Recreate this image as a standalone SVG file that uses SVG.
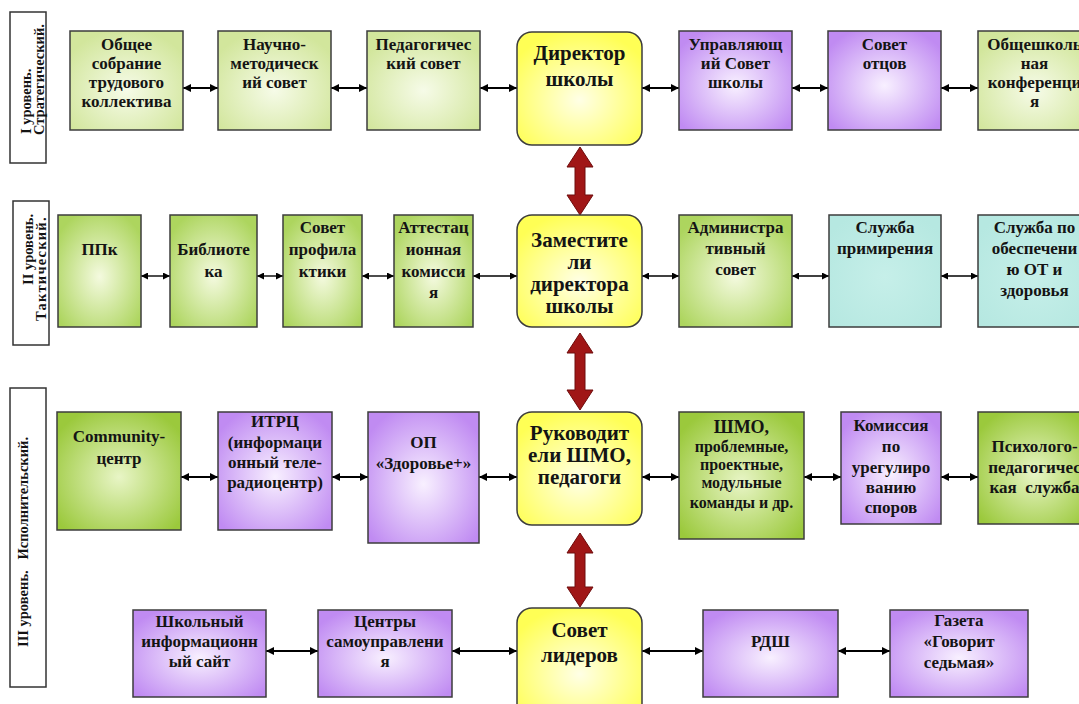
<svg xmlns="http://www.w3.org/2000/svg" width="1079" height="704" viewBox="0 0 1079 704">
<style>
text { font-family: "Liberation Serif", "Times New Roman", serif; font-weight: bold; fill: #141414; }
.node text { font-size: 17px; text-anchor: middle; }
.node.big text { font-size: 21px; }
.box { stroke: #3c3c3c; stroke-width: 1.5; }
.lvl rect { fill: #ffffff; stroke: #333333; stroke-width: 1.5; }
.lvl text { font-size: 14.5px; }
.conn line { stroke: #000; stroke-width: 2; marker-start: url(#ah); marker-end: url(#ah); }
.conn .thin { stroke-width: 1.4; marker-start: url(#ah2); marker-end: url(#ah2); }
.red { fill: #a01616; stroke: #6e0c0c; stroke-width: 1; }
</style>
<defs>
<radialGradient id="gY" cx="0.5" cy="0.6" r="0.62"><stop offset="0" stop-color="#ffffe6"/><stop offset="1" stop-color="#ffff55"/></radialGradient>
<radialGradient id="gG1" cx="0.5" cy="0.6" r="0.62"><stop offset="0" stop-color="#f6fbe8"/><stop offset="1" stop-color="#d2e69c"/></radialGradient>
<radialGradient id="gG2" cx="0.5" cy="0.55" r="0.62"><stop offset="0" stop-color="#f4fadf"/><stop offset="1" stop-color="#add55e"/></radialGradient>
<radialGradient id="gG3" cx="0.5" cy="0.55" r="0.62"><stop offset="0" stop-color="#e8f5c6"/><stop offset="1" stop-color="#9bc93c"/></radialGradient>
<radialGradient id="gP" cx="0.5" cy="0.55" r="0.62"><stop offset="0" stop-color="#f8f0ff"/><stop offset="1" stop-color="#c08bf2"/></radialGradient>
<radialGradient id="gC" cx="0.5" cy="0.55" r="0.62"><stop offset="0" stop-color="#c6efe9"/><stop offset="1" stop-color="#b6e8e1"/></radialGradient>
<marker id="ah" viewBox="0 0 10 10" refX="10" refY="5" markerUnits="userSpaceOnUse" markerWidth="9" markerHeight="8" orient="auto-start-reverse"><path d="M0,0 L10,5 L0,10 z" fill="#000"/></marker>
<marker id="ah2" viewBox="0 0 10 10" refX="10" refY="5" markerUnits="userSpaceOnUse" markerWidth="8" markerHeight="7" orient="auto-start-reverse"><path d="M0,0 L10,5 L0,10 z" fill="#000"/></marker>
</defs>

<g id="levels" class="lvl">
  <g id="lvl-1"><rect x="10" y="12" width="36" height="151"/>
    <text transform="translate(31,134) rotate(-90)">I уровень.</text>
    <text transform="translate(44,135) rotate(-90)">Стратегический.</text></g>
  <g id="lvl-2"><rect x="13" y="201" width="36" height="144"/>
    <text transform="translate(33,285) rotate(-90)">II уровень.</text>
    <text transform="translate(46,321) rotate(-90)" letter-spacing="1.2">Тактический.</text></g>
  <g id="lvl-3"><rect x="10" y="388" width="36" height="299"/>
    <text transform="translate(28,647) rotate(-90)" xml:space="preserve">III уровень.   Исполнительский.</text></g>
</g>

<g id="connectors" class="conn">
  <line x1="183" y1="88" x2="218" y2="88"/>
  <line x1="331" y1="88" x2="367" y2="88"/>
  <line x1="480" y1="88" x2="517" y2="88"/>
  <line x1="642" y1="88" x2="679" y2="88"/>
  <line x1="792" y1="88" x2="828" y2="88"/>
  <line x1="941" y1="88" x2="978" y2="88"/>
  <line class="thin" x1="141" y1="276" x2="170" y2="276"/>
  <line class="thin" x1="257" y1="276" x2="283" y2="276"/>
  <line class="thin" x1="362" y1="276" x2="394" y2="276"/>
  <line class="thin" x1="473" y1="276" x2="517" y2="276"/>
  <line class="thin" x1="642" y1="276" x2="679" y2="276"/>
  <line class="thin" x1="792" y1="276" x2="829" y2="276"/>
  <line class="thin" x1="941" y1="276" x2="978" y2="276"/>
  <line x1="181" y1="477" x2="218" y2="477"/>
  <line x1="332" y1="477" x2="368" y2="477"/>
  <line x1="479" y1="477" x2="517" y2="477"/>
  <line x1="642" y1="477" x2="679" y2="477"/>
  <line x1="804" y1="477" x2="841" y2="477"/>
  <line x1="941" y1="477" x2="978" y2="477"/>
  <line x1="266" y1="651" x2="318" y2="651"/>
  <line x1="452" y1="651" x2="517" y2="651"/>
  <line x1="642" y1="651" x2="703" y2="651"/>
  <line x1="838" y1="651" x2="890" y2="651"/>
  <path class="red" d="M580,147 L593,167 L585,167 L585,195 L593,195 L580,215 L567,195 L575,195 L575,167 L567,167 Z"/>
  <path class="red" d="M580,333 L593,353 L585,353 L585,390 L593,390 L580,410 L567,390 L575,390 L575,353 L567,353 Z"/>
  <path class="red" d="M580,533 L593,553 L585,553 L585,587 L593,587 L580,607 L567,587 L575,587 L575,553 L567,553 Z"/>
</g>

<g id="n-obshee" class="node"><rect class="box" x="70" y="31" width="113" height="99" fill="url(#gG1)"/>
  <text><tspan x="126.5" y="50">Общее</tspan><tspan x="126.5" y="69">собрание</tspan><tspan x="126.5" y="88">трудового</tspan><tspan x="126.5" y="107">коллектива</tspan></text></g>
<g id="n-nauchno" class="node"><rect class="box" x="218" y="31" width="113" height="99" fill="url(#gG1)"/>
  <text><tspan x="274.5" y="50">Научно-</tspan><tspan x="274.5" y="69">методическ</tspan><tspan x="274.5" y="88">ий совет</tspan></text></g>
<g id="n-pedsovet" class="node"><rect class="box" x="367" y="31" width="113" height="99" fill="url(#gG1)"/>
  <text><tspan x="423.5" y="50">Педагогичес</tspan><tspan x="423.5" y="69">кий совет</tspan></text></g>
<g id="n-director" class="node big"><rect class="box" x="517" y="32" width="125" height="113" rx="15" fill="url(#gY)"/>
  <text><tspan x="579.5" y="60">Директор</tspan><tspan x="579.5" y="86">школы</tspan></text></g>
<g id="n-upravl" class="node"><rect class="box" x="679" y="31" width="113" height="99" fill="url(#gP)"/>
  <text><tspan x="735.5" y="50">Управляющ</tspan><tspan x="735.5" y="69">ий Совет</tspan><tspan x="735.5" y="88">школы</tspan></text></g>
<g id="n-otcy" class="node"><rect class="box" x="828" y="31" width="113" height="99" fill="url(#gP)"/>
  <text><tspan x="884.5" y="50">Совет</tspan><tspan x="884.5" y="69">отцов</tspan></text></g>
<g id="n-konf" class="node"><rect class="box" x="978" y="31" width="113" height="99" fill="url(#gG1)"/>
  <text><tspan x="1034.5" y="50">Общешколь</tspan><tspan x="1034.5" y="69">ная</tspan><tspan x="1034.5" y="88">конференци</tspan><tspan x="1034.5" y="107">я</tspan></text></g>

<g id="n-ppk" class="node"><rect class="box" x="58" y="215" width="83" height="112" fill="url(#gG2)"/>
  <text><tspan x="99.5" y="255">ППк</tspan></text></g>
<g id="n-bibl" class="node"><rect class="box" x="170" y="215" width="87" height="112" fill="url(#gG2)"/>
  <text><tspan x="213.5" y="255">Библиоте</tspan><tspan x="213.5" y="277">ка</tspan></text></g>
<g id="n-profil" class="node"><rect class="box" x="283" y="215" width="79" height="112" fill="url(#gG2)"/>
  <text><tspan x="322.5" y="233">Совет</tspan><tspan x="322.5" y="255">профила</tspan><tspan x="322.5" y="277">ктики</tspan></text></g>
<g id="n-attest" class="node"><rect class="box" x="394" y="215" width="79" height="112" fill="url(#gG2)"/>
  <text><tspan x="433.5" y="233">Аттестац</tspan><tspan x="433.5" y="255">ионная</tspan><tspan x="433.5" y="277">комисси</tspan><tspan x="433.5" y="298">я</tspan></text></g>
<g id="n-zam" class="node big"><rect class="box" x="517" y="215" width="125" height="112" rx="15" fill="url(#gY)"/>
  <text><tspan x="579.5" y="247">Заместите</tspan><tspan x="579.5" y="269">ли</tspan><tspan x="579.5" y="291">директора</tspan><tspan x="579.5" y="313">школы</tspan></text></g>
<g id="n-admin" class="node"><rect class="box" x="679" y="215" width="113" height="112" fill="url(#gG2)"/>
  <text><tspan x="735.5" y="233">Администра</tspan><tspan x="735.5" y="254">тивный</tspan><tspan x="735.5" y="275">совет</tspan></text></g>
<g id="n-primir" class="node"><rect class="box" x="829" y="215" width="112" height="112" fill="url(#gC)"/>
  <text><tspan x="885" y="233">Служба</tspan><tspan x="885" y="254">примирения</tspan></text></g>
<g id="n-ot" class="node"><rect class="box" x="978" y="215" width="113" height="112" fill="url(#gC)"/>
  <text><tspan x="1034.5" y="233">Служба по</tspan><tspan x="1034.5" y="254">обеспечени</tspan><tspan x="1034.5" y="275">ю ОТ и</tspan><tspan x="1034.5" y="296">здоровья</tspan></text></g>

<g id="n-community" class="node"><rect class="box" x="57" y="412" width="124" height="118" fill="url(#gG3)"/>
  <text><tspan x="119" y="442">Community-</tspan><tspan x="119" y="464">центр</tspan></text></g>
<g id="n-itrc" class="node"><rect class="box" x="218" y="412" width="114" height="118" fill="url(#gP)"/>
  <text><tspan x="275" y="427">ИТРЦ</tspan><tspan x="275" y="448">(информаци</tspan><tspan x="275" y="468">онный теле-</tspan><tspan x="275" y="488">радиоцентр)</tspan></text></g>
<g id="n-op" class="node"><rect class="box" x="368" y="412" width="111" height="131" fill="url(#gP)"/>
  <text><tspan x="423.5" y="448">ОП</tspan><tspan x="423.5" y="469">«Здоровье+»</tspan></text></g>
<g id="n-rukov" class="node big"><rect class="box" x="517" y="412" width="125" height="113" rx="15" fill="url(#gY)"/>
  <text><tspan x="579.5" y="440">Руководит</tspan><tspan x="579.5" y="462">ели ШМО,</tspan><tspan x="579.5" y="484">педагоги</tspan></text></g>
<g id="n-shmo" class="node"><rect class="box" x="679" y="412" width="125" height="127" fill="url(#gG3)"/>
  <text><tspan x="741.5" y="433" style="font-size:18px">ШМО,</tspan><tspan x="741.5" y="452" style="font-size:16px">проблемные,</tspan><tspan x="741.5" y="470" style="font-size:16px">проектные,</tspan><tspan x="741.5" y="488" style="font-size:16px">модульные</tspan><tspan x="741.5" y="508" style="font-size:16px">команды и др.</tspan></text></g>
<g id="n-komissia" class="node"><rect class="box" x="841" y="412" width="100" height="112" fill="url(#gP)"/>
  <text><tspan x="891" y="431">Комиссия</tspan><tspan x="891" y="452">по</tspan><tspan x="891" y="473">урегулиро</tspan><tspan x="891" y="493">ванию</tspan><tspan x="891" y="513">споров</tspan></text></g>
<g id="n-psych" class="node"><rect class="box" x="978" y="412" width="113" height="112" fill="url(#gG3)"/>
  <text xml:space="preserve"><tspan x="1034.5" y="452">Психолого-</tspan><tspan x="1034.5" y="473">педагогичес</tspan><tspan x="1034.5" y="493">кая  служба</tspan></text></g>

<g id="n-site" class="node"><rect class="box" x="133" y="610" width="133" height="87" fill="url(#gP)"/>
  <text><tspan x="199.5" y="627">Школьный</tspan><tspan x="199.5" y="647">информационн</tspan><tspan x="199.5" y="667">ый сайт</tspan></text></g>
<g id="n-centry" class="node"><rect class="box" x="318" y="610" width="134" height="87" fill="url(#gP)"/>
  <text><tspan x="385" y="627">Центры</tspan><tspan x="385" y="647">самоуправлени</tspan><tspan x="385" y="667">я</tspan></text></g>
<g id="n-lidery" class="node big"><rect class="box" x="517" y="608" width="125" height="110" rx="15" fill="url(#gY)"/>
  <text><tspan x="579.5" y="637">Совет</tspan><tspan x="579.5" y="662">лидеров</tspan></text></g>
<g id="n-rdsh" class="node"><rect class="box" x="703" y="610" width="135" height="87" fill="url(#gP)"/>
  <text><tspan x="770.5" y="647">РДШ</tspan></text></g>
<g id="n-gazeta" class="node"><rect class="box" x="890" y="610" width="138" height="87" fill="url(#gP)"/>
  <text><tspan x="959" y="626">Газета</tspan><tspan x="959" y="647">«Говорит</tspan><tspan x="959" y="668">седьмая»</tspan></text></g>
</svg>
